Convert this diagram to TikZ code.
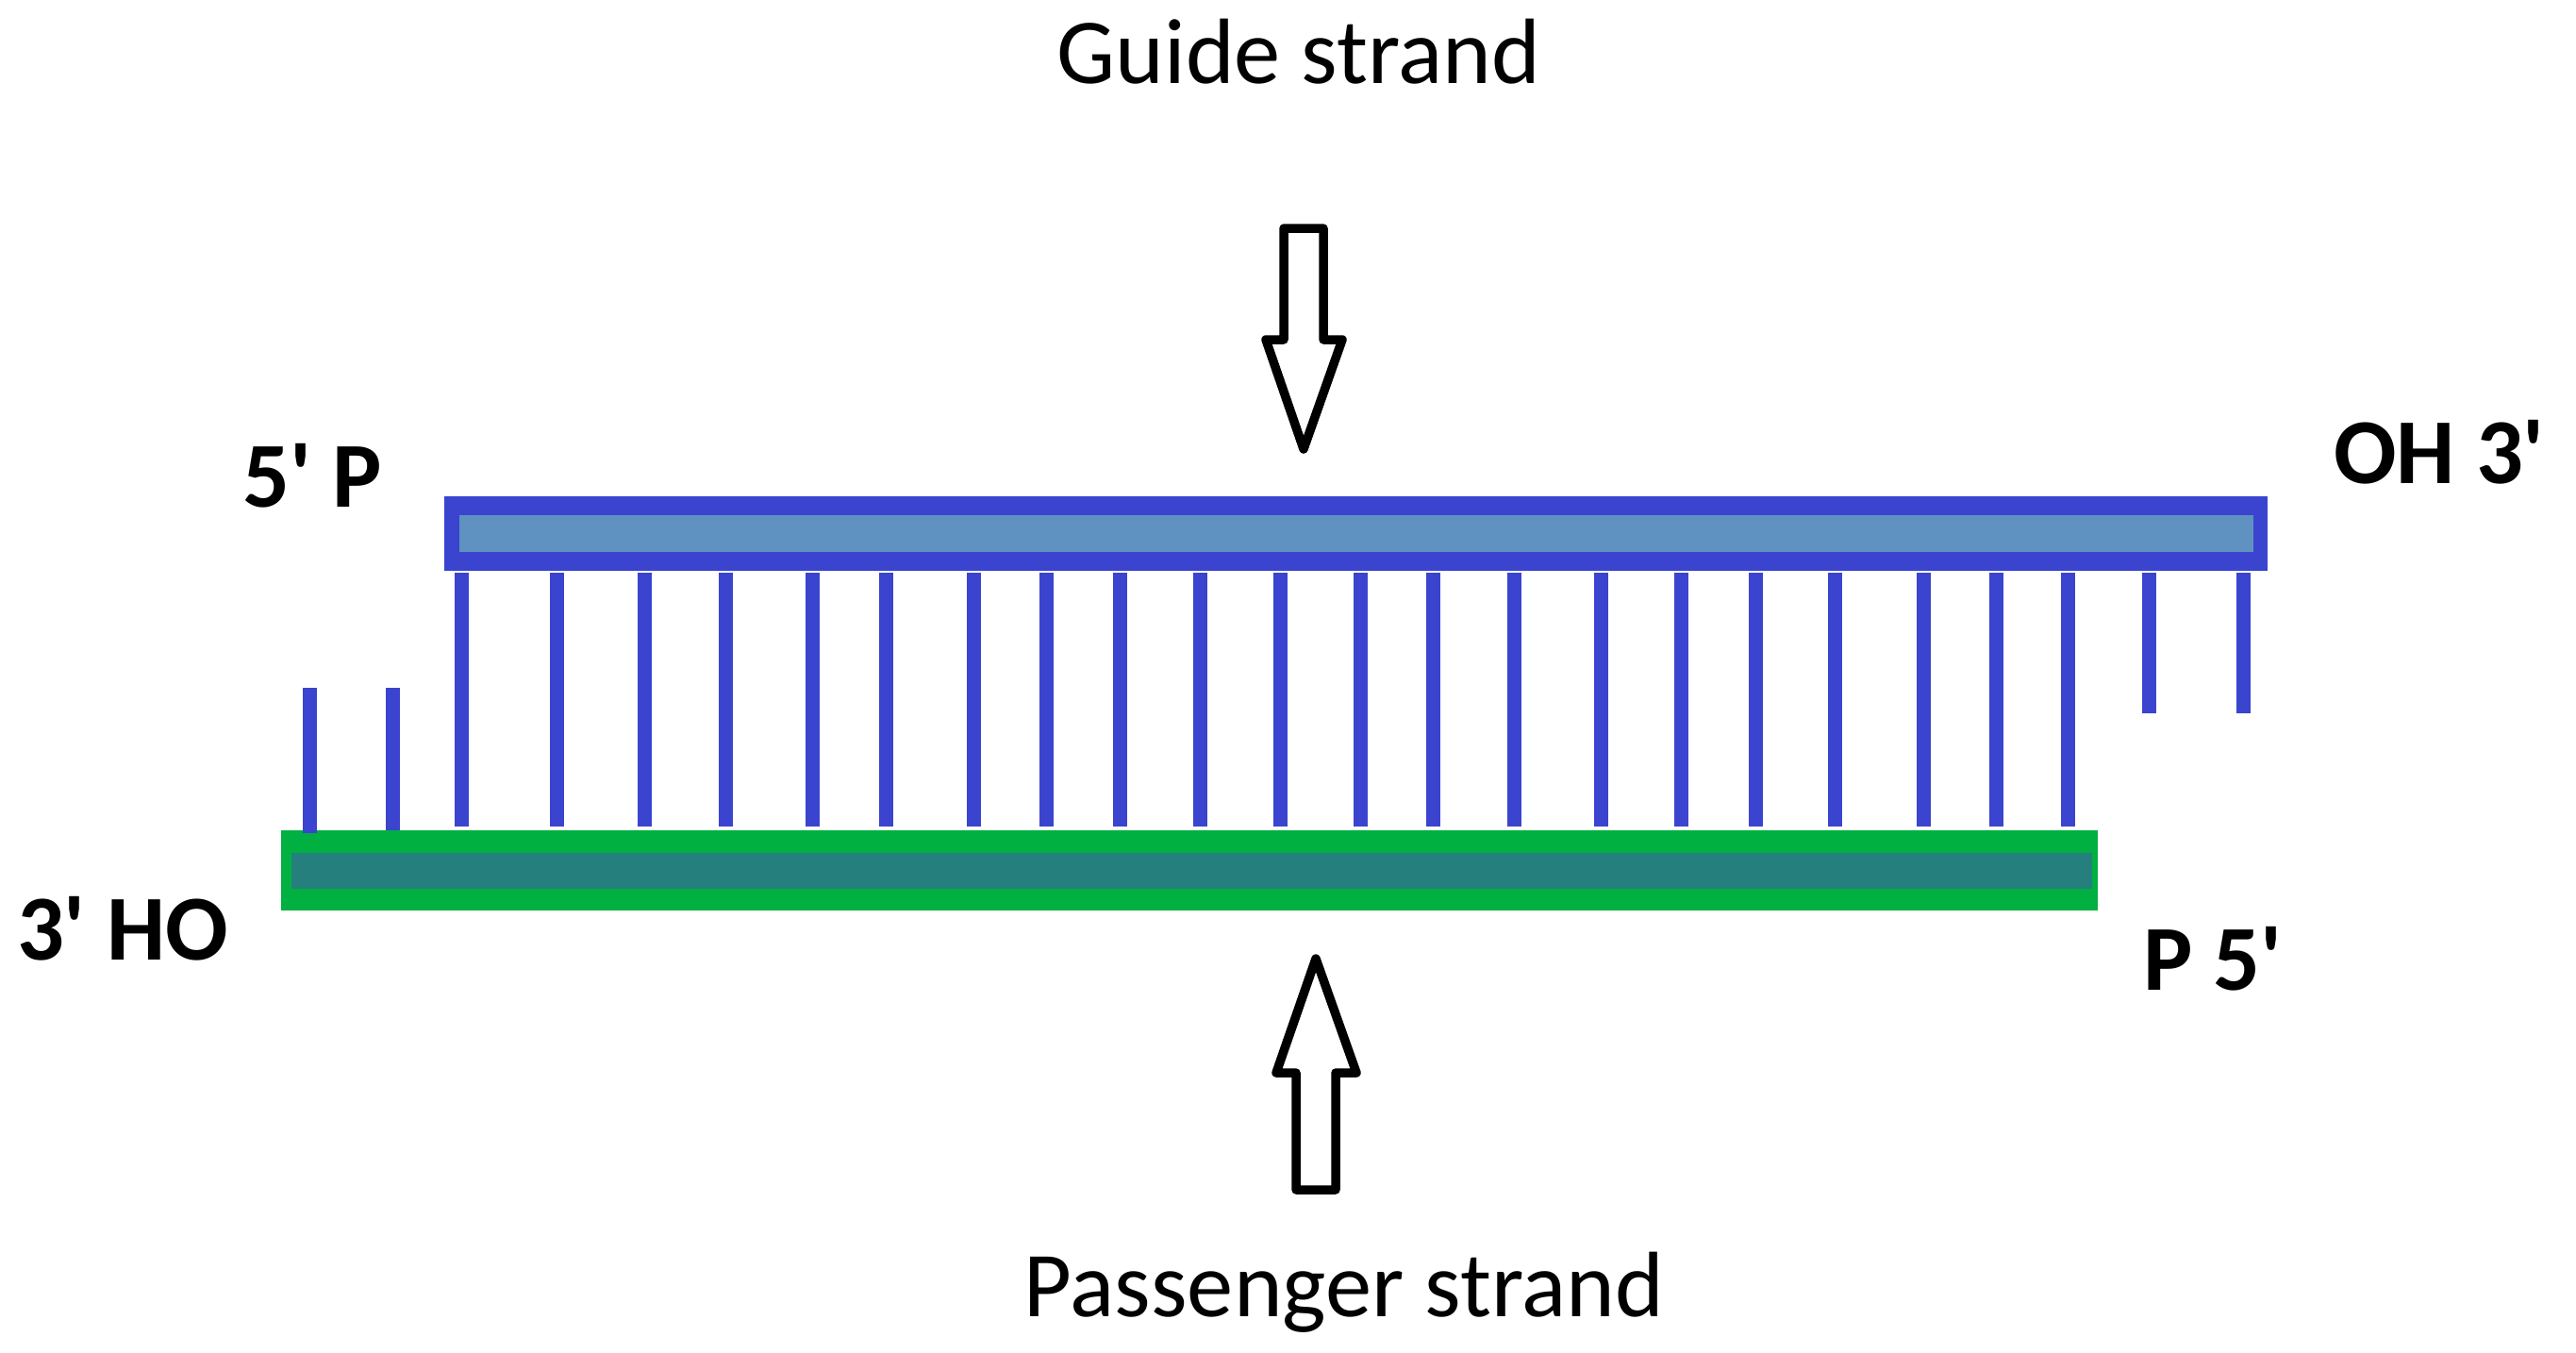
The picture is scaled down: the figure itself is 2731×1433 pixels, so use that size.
\documentclass[tikz,border=0pt]{standalone}
\usepackage{fontspec}
\setmainfont{Carlito}
\definecolor{bluedark}{RGB}{58,68,206}
\definecolor{bluelight}{RGB}{95,146,192}
\definecolor{greenbright}{RGB}{0,176,64}
\definecolor{tealin}{RGB}{37,128,125}
\begin{document}
\begin{tikzpicture}[x=0.01cm,y=-0.01cm,
  bar/.style={rectangle,inner sep=0pt,outer sep=0pt,draw=none},
  pair/.style={draw=bluedark,line width=0.15cm,line cap=butt},
  bigarrow/.style={draw=black,fill=white,line width=0.095cm,line join=round},
  lbl/.style={inner sep=0pt,anchor=base,font=\fontsize{28}{32}\selectfont},
  endlbl/.style={inner sep=0pt,anchor=base,font=\fontsize{28}{32}\selectfont\bfseries}]
\useasboundingbox (0,0) rectangle (2731,1433);
% guide strand
\node[bar,fill=bluedark,minimum width=19.31cm,minimum height=0.78cm] (gout) at (1437.5,565.5) {};
\node[bar,fill=bluelight,minimum width=19.00cm,minimum height=0.39cm] (gin) at (1438,565.5) {};
% passenger strand
\node[bar,fill=greenbright,minimum width=19.24cm,minimum height=0.845cm] (pout) at (1261,922.75) {};
\node[bar,fill=tealin,minimum width=19.07cm,minimum height=0.38cm] (pin) at (1263.5,923) {};
% base pairs
\foreach \xx in {489,590,683,769,861,939,1032,1109,1187,1272,1357,1442,1519,1605,1697,1782,1861,1945,2039,2116,2192}
  \draw[pair] (\xx,607) -- (\xx,876);
\draw[pair] (328,729) -- (328,883);
\draw[pair] (416,729) -- (416,880);
\draw[pair] (2278,607) -- (2278,756);
\draw[pair] (2378,607) -- (2378,756);
% arrows
\draw[bigarrow] (1361,242) -- (1403,242) -- (1403,360) -- (1423,360) -- (1382,476) -- (1342,360) -- (1361,360) -- cycle;
\draw[bigarrow] (1374,1261) -- (1416,1261) -- (1416,1137) -- (1438,1137) -- (1395,1016) -- (1353,1137) -- (1374,1137) -- cycle;
% labels
\node[lbl] (guide) at (1377,88) {Guide strand};
\node[lbl] (pass) at (1425,1395) {Passenger strand};
\node[endlbl] (g5) at (331.5,537) {5\textquotesingle{} P};
\node[endlbl] (g3) at (2586,512) {OH 3\textquotesingle};
\node[endlbl] (p3) at (130,1017) {3\textquotesingle{} HO};
\node[endlbl] (p5) at (2346,1049) {P 5\textquotesingle};
\end{tikzpicture}
\end{document}
